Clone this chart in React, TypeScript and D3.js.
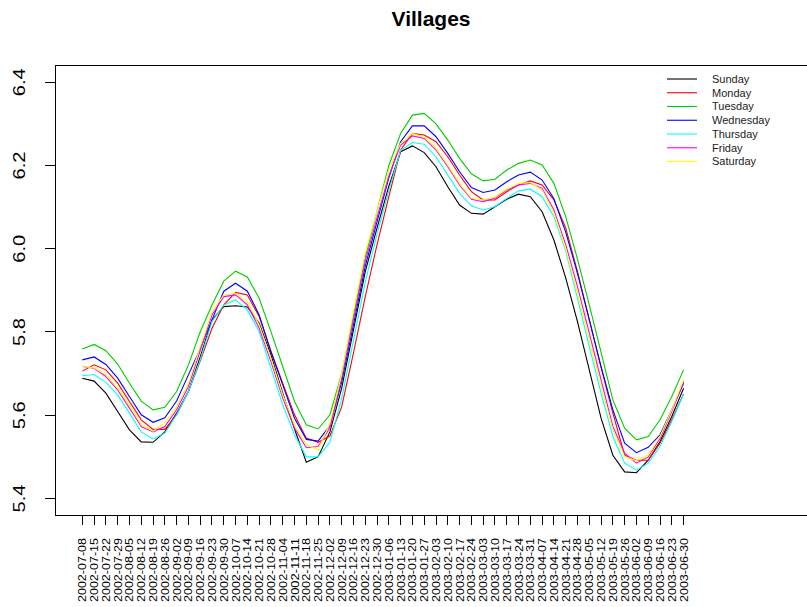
import React from 'react'
import * as d3 from 'd3'

const weeks = [
  '2002-07-08', '2002-07-15', '2002-07-22', '2002-07-29', '2002-08-05', '2002-08-12', '2002-08-19', '2002-08-26',
  '2002-09-02', '2002-09-09', '2002-09-16', '2002-09-23', '2002-09-30', '2002-10-07', '2002-10-14', '2002-10-21',
  '2002-10-28', '2002-11-04', '2002-11-11', '2002-11-18', '2002-11-25', '2002-12-02', '2002-12-09', '2002-12-16',
  '2002-12-23', '2002-12-30', '2003-01-06', '2003-01-13', '2003-01-20', '2003-01-27', '2003-02-03', '2003-02-10',
  '2003-02-17', '2003-02-24', '2003-03-03', '2003-03-10', '2003-03-17', '2003-03-24', '2003-03-31', '2003-04-07',
  '2003-04-14', '2003-04-21', '2003-04-28', '2003-05-05', '2003-05-12', '2003-05-19', '2003-05-26', '2003-06-02',
  '2003-06-09', '2003-06-16', '2003-06-23', '2003-06-30'
]

const days = ['Sunday', 'Monday', 'Tuesday', 'Wednesday', 'Thursday', 'Friday', 'Saturday']
const colors = ['#000000', '#FF0000', '#00CD00', '#0000FF', '#00FFFF', '#FF00FF', '#FFFF00']

const sunday = [
  5.689, 5.682, 5.653, 5.609, 5.565, 5.536, 5.535, 5.56, 5.605, 5.657,
  5.74, 5.829, 5.861, 5.863, 5.86, 5.821, 5.745, 5.653, 5.567, 5.487,
  5.5, 5.56, 5.665, 5.805, 5.945, 6.05, 6.15, 6.233, 6.247, 6.231,
  6.197, 6.149, 6.105, 6.085, 6.083, 6.101, 6.119, 6.131, 6.125, 6.089,
  6.021, 5.93, 5.825, 5.709, 5.593, 5.504, 5.464, 5.462, 5.492, 5.537,
  5.597, 5.665
]
const monday = [
  5.706, 5.721, 5.709, 5.677, 5.633, 5.589, 5.566, 5.566, 5.601, 5.657,
  5.73, 5.809, 5.865, 5.895, 5.889, 5.837, 5.753, 5.677, 5.601, 5.545,
  5.535, 5.55, 5.62, 5.75, 5.885, 6.01, 6.125, 6.237, 6.277, 6.273,
  6.257, 6.221, 6.177, 6.137, 6.117, 6.117, 6.137, 6.153, 6.163, 6.153,
  6.117, 6.05, 5.945, 5.83, 5.715, 5.605, 5.504, 5.492, 5.492, 5.533,
  5.589, 5.651
]
const tuesday = [
  5.759, 5.77, 5.755, 5.723, 5.677, 5.634, 5.613, 5.619, 5.657, 5.721,
  5.8, 5.865, 5.922, 5.946, 5.932, 5.881, 5.801, 5.717, 5.633, 5.577,
  5.567, 5.601, 5.7, 5.84, 5.98, 6.09, 6.2, 6.277, 6.321, 6.325,
  6.3, 6.261, 6.217, 6.18, 6.163, 6.167, 6.189, 6.205, 6.213, 6.201,
  6.157, 6.077, 5.975, 5.865, 5.751, 5.637, 5.569, 5.541, 5.549, 5.589,
  5.645, 5.709
]
const wednesday = [
  5.733, 5.74, 5.722, 5.689, 5.645, 5.601, 5.583, 5.594, 5.634, 5.697,
  5.76, 5.829, 5.898, 5.917, 5.898, 5.841, 5.753, 5.673, 5.593, 5.542,
  5.538, 5.575, 5.68, 5.818, 5.958, 6.065, 6.17, 6.257, 6.295, 6.295,
  6.269, 6.229, 6.185, 6.147, 6.135, 6.141, 6.161, 6.177, 6.184, 6.165,
  6.12, 6.04, 5.941, 5.829, 5.717, 5.613, 5.533, 5.51, 5.523, 5.553,
  5.613, 5.677
]
const thursday = [
  5.695, 5.698, 5.679, 5.649, 5.605, 5.56, 5.543, 5.557, 5.601, 5.657,
  5.733, 5.825, 5.865, 5.877, 5.853, 5.801, 5.713, 5.625, 5.553, 5.5,
  5.5, 5.535, 5.64, 5.78, 5.92, 6.035, 6.14, 6.237, 6.255, 6.251,
  6.221, 6.177, 6.133, 6.103, 6.093, 6.101, 6.121, 6.139, 6.143, 6.125,
  6.077, 5.995, 5.881, 5.765, 5.653, 5.549, 5.485, 5.468, 5.485, 5.525,
  5.585, 5.651
]
const friday = [
  5.717, 5.713, 5.693, 5.661, 5.617, 5.573, 5.56, 5.573, 5.613, 5.669,
  5.755, 5.841, 5.885, 5.889, 5.865, 5.809, 5.729, 5.641, 5.569, 5.522,
  5.525, 5.57, 5.69, 5.83, 5.97, 6.075, 6.175, 6.249, 6.271, 6.265,
  6.237, 6.197, 6.153, 6.119, 6.113, 6.121, 6.141, 6.153, 6.157, 6.145,
  6.093, 6.01, 5.909, 5.797, 5.685, 5.573, 5.509, 5.485, 5.5, 5.545,
  5.609, 5.681
]
const saturday = [
  5.717, 5.714, 5.697, 5.665, 5.625, 5.577, 5.562, 5.581, 5.621, 5.677,
  5.765, 5.849, 5.889, 5.893, 5.873, 5.817, 5.737, 5.649, 5.577, 5.529,
  5.517, 5.58, 5.7, 5.85, 5.99, 6.09, 6.19, 6.253, 6.277, 6.268,
  6.241, 6.201, 6.157, 6.121, 6.117, 6.125, 6.143, 6.157, 6.159, 6.141,
  6.085, 6.0, 5.893, 5.781, 5.669, 5.565, 5.5, 5.491, 5.504, 5.549,
  5.613, 5.686
]
const series = [sunday, monday, tuesday, wednesday, thursday, friday, saturday]

const yTicks = [5.4, 5.6, 5.8, 6.0, 6.2, 6.4]

const width = 807
const height = 607
const box = { left: 55, top: 65, right: 808, bottom: 515 }
const font = 'Liberation Sans, Arial, Helvetica, sans-serif'

const App = () => {
  const x = d3.scalePoint().domain(weeks).range([82.3, 683.6])
  const y = d3.scaleLinear().domain([5.4, 6.4]).range([498.5, 82.2])
  const line = d3
    .line<number>()
    .x((d, i) => x(weeks[i]))
    .y((d) => y(d))

  return (
    <div style={{ position: 'absolute', left: 0, top: 0 }}>
      <svg width={width} height={height} style={{ display: 'block', background: '#fff' }} fontFamily={font}>
        <text x={431} y={26} textAnchor="middle" fontSize={21} fontWeight="bold">
          Villages
        </text>

        {series.map((s, k) => (
          <path key={days[k]} d={line(s)} fill="none" stroke={colors[k]} strokeWidth={1.1} />
        ))}

        <rect
          x={box.left + 0.5}
          y={box.top + 0.5}
          width={box.right - box.left}
          height={box.bottom - box.top}
          fill="none"
          stroke="#000"
          strokeWidth={1}
          shapeRendering="crispEdges"
        />

        {yTicks.map((t) => (
          <g key={t}>
            <line x1={box.left - 10} x2={box.left} y1={y(t)} y2={y(t)} stroke="#000" shapeRendering="crispEdges" />
            <text
              transform={`translate(25,${y(t)}) rotate(-90)`}
              textAnchor="middle"
              fontSize={17}
              textLength={28}
              lengthAdjust="spacingAndGlyphs"
            >
              {d3.format('.1f')(t)}
            </text>
          </g>
        ))}

        {weeks.map((w) => (
          <g key={w}>
            <line
              x1={x(w)}
              x2={x(w)}
              y1={box.bottom}
              y2={box.bottom + 10}
              stroke="#000"
              shapeRendering="crispEdges"
            />
            <text
              transform={`translate(${x(w) + 4},538) rotate(-90)`}
              textAnchor="end"
              fontSize={10}
              textLength={64}
              lengthAdjust="spacingAndGlyphs"
            >
              {w}
            </text>
          </g>
        ))}

        {days.map((d, k) => (
          <g key={d} transform={`translate(0,${79 + k * 13.75})`}>
            <line x1={667} x2={697} y1={0} y2={0} stroke={colors[k]} strokeWidth={1.1} />
            <text x={712} y={0} dy="0.35em" fontSize={11} fill="#222">
              {d}
            </text>
          </g>
        ))}
      </svg>
    </div>
  )
}

export default App
